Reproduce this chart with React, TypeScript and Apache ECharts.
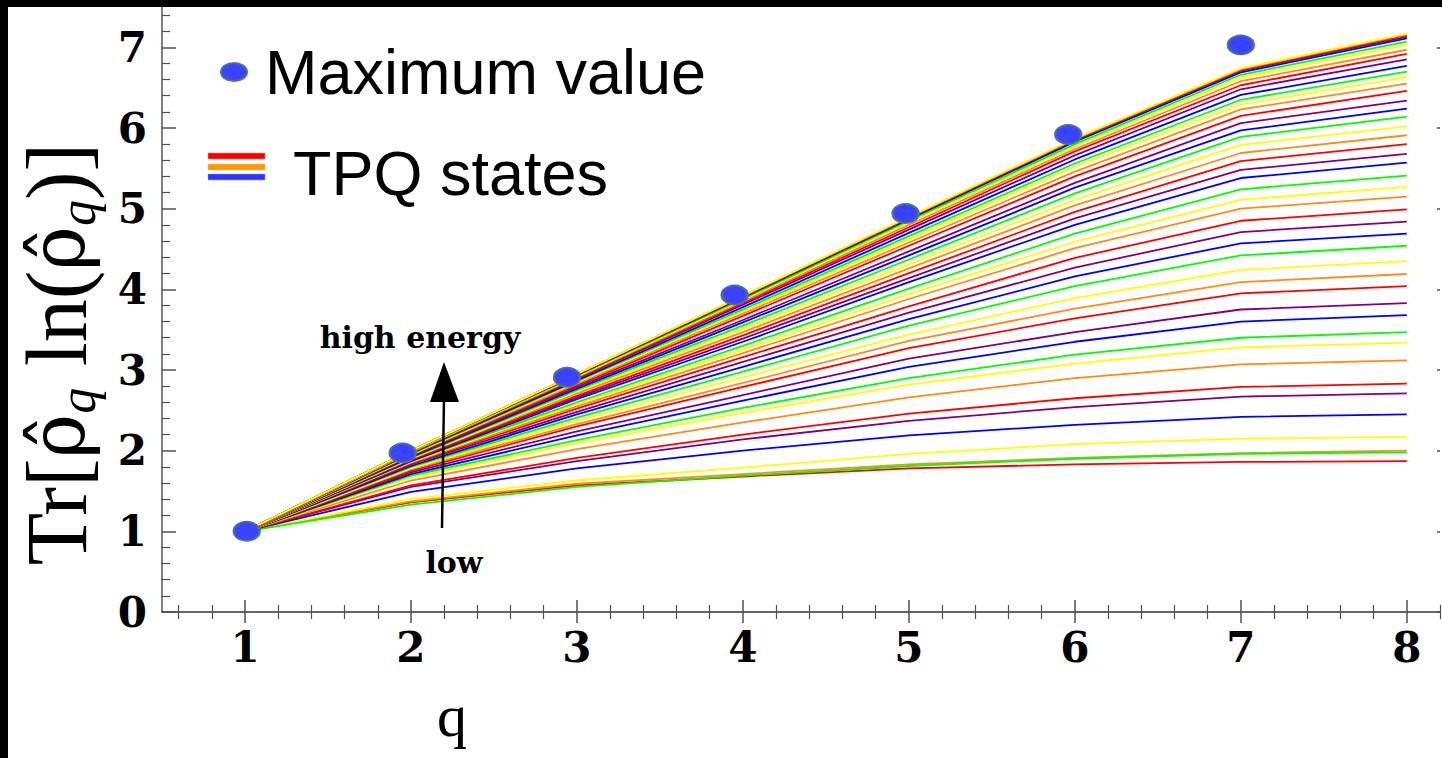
import React, { useEffect, useRef } from "react";
import * as echarts from "echarts";

const Q = [1, 2, 3, 4, 5, 6, 7, 8];
const xMajor = [1, 2, 3, 4, 5, 6, 7, 8];
const yMajor = [0, 1, 2, 3, 4, 5, 6, 7];
const lineColors = ["#ff0000", "#ff8a14", "#ffff00", "#00ff00", "#0000ff", "#800080"];

// TPQ state curves, from low energy (bottom) to high energy (top)
const tpqLines: number[][] = [
  [1, 1.36, 1.57, 1.68, 1.78, 1.83, 1.86, 1.87],
  [1, 1.37, 1.59, 1.71, 1.83, 1.91, 1.97, 2.0],
  [1, 1.4, 1.63, 1.79, 1.96, 2.08, 2.15, 2.17],
  [1, 1.33, 1.55, 1.69, 1.81, 1.9, 1.96, 1.98],
  [1, 1.49, 1.78, 2.0, 2.19, 2.32, 2.42, 2.45],
  [1, 1.55, 1.87, 2.14, 2.37, 2.54, 2.67, 2.71],
  [1, 1.57, 1.91, 2.2, 2.46, 2.65, 2.79, 2.83],
  [1, 1.63, 2.02, 2.35, 2.66, 2.9, 3.07, 3.12],
  [1, 1.67, 2.09, 2.47, 2.82, 3.08, 3.28, 3.34],
  [1, 1.69, 2.13, 2.53, 2.9, 3.19, 3.4, 3.47],
  [1, 1.71, 2.19, 2.62, 3.04, 3.35, 3.6, 3.68],
  [1, 1.73, 2.24, 2.69, 3.14, 3.47, 3.75, 3.83],
  [1, 1.75, 2.3, 2.79, 3.27, 3.64, 3.95, 4.04],
  [1, 1.77, 2.33, 2.84, 3.36, 3.76, 4.09, 4.19],
  [1, 1.78, 2.37, 2.91, 3.44, 3.89, 4.24, 4.35],
  [1, 1.8, 2.41, 2.98, 3.55, 4.04, 4.42, 4.54],
  [1, 1.81, 2.45, 3.04, 3.63, 4.16, 4.57, 4.69],
  [1, 1.83, 2.48, 3.1, 3.71, 4.27, 4.71, 4.84],
  [1, 1.84, 2.52, 3.16, 3.79, 4.39, 4.85, 4.99],
  [1, 1.85, 2.55, 3.21, 3.88, 4.51, 5.0, 5.15],
  [1, 1.86, 2.58, 3.25, 3.94, 4.59, 5.11, 5.27],
  [1, 1.87, 2.6, 3.3, 4.01, 4.69, 5.24, 5.41],
  [1, 1.87, 2.64, 3.35, 4.09, 4.8, 5.38, 5.57],
  [1, 1.88, 2.66, 3.39, 4.14, 4.88, 5.48, 5.68],
  [1, 1.89, 2.68, 3.43, 4.2, 4.96, 5.59, 5.8],
  [1, 1.9, 2.71, 3.47, 4.26, 5.04, 5.69, 5.91],
  [1, 1.9, 2.73, 3.51, 4.31, 5.11, 5.79, 6.02],
  [1, 1.91, 2.75, 3.55, 4.37, 5.19, 5.89, 6.14],
  [1, 1.92, 2.77, 3.59, 4.42, 5.26, 5.97, 6.24],
  [1, 1.93, 2.79, 3.62, 4.47, 5.32, 6.06, 6.34],
  [1, 1.94, 2.81, 3.67, 4.54, 5.4, 6.15, 6.46],
  [1, 1.95, 2.83, 3.7, 4.58, 5.46, 6.23, 6.55],
  [1, 1.95, 2.85, 3.73, 4.62, 5.52, 6.29, 6.63],
  [1, 1.96, 2.86, 3.75, 4.66, 5.56, 6.35, 6.7],
  [1, 1.97, 2.87, 3.78, 4.7, 5.61, 6.41, 6.77],
  [1, 1.97, 2.89, 3.81, 4.74, 5.66, 6.48, 6.85],
  [1, 1.98, 2.9, 3.83, 4.77, 5.71, 6.53, 6.92],
  [1, 1.98, 2.91, 3.85, 4.8, 5.74, 6.58, 6.97],
  [1, 1.99, 2.92, 3.87, 4.83, 5.78, 6.62, 7.03],
  [1, 1.99, 2.93, 3.88, 4.85, 5.8, 6.66, 7.07],
  [1, 2.0, 2.94, 3.9, 4.87, 5.83, 6.69, 7.11],
  [1, 2.0, 2.94, 3.91, 4.88, 5.85, 6.71, 7.13],
  [1, 2.0, 2.95, 3.91, 4.89, 5.86, 6.72, 7.15],
  [1, 2.0, 2.95, 3.92, 4.89, 5.86, 6.73, 7.16],
  [1, 2.0, 2.95, 3.92, 4.9, 5.87, 6.74, 7.17],
];

const maxQ = [1.01, 1.95, 2.94, 3.95, 4.98, 5.96, 7.0];
const maxVal = [1.0, 1.97, 2.91, 3.93, 4.94, 5.92, 7.03];

const X_MIN = 0.5;
const X_MAX = 8.2;
const Y_MIN = 0;
const Y_MAX = 7.5;

function minorTicks(min: number, max: number, step: number, majors: number[]) {
  const out: number[] = [];
  const n = Math.round((max - min) / step);
  for (let i = 0; i <= n; i++) {
    const v = Math.round((min + i * step) * 1000) / 1000;
    if (!majors.includes(v)) out.push(v);
  }
  return out;
}

export default function App() {
  const ref = useRef<HTMLDivElement>(null);

  useEffect(() => {
    if (!ref.current) return;
    const chart = echarts.init(ref.current, null, { renderer: "svg" });

    const xMinor = minorTicks(0.6, 8.2, 0.2, xMajor);
    const yMinor = minorTicks(0.2, 7.4, 0.2, yMajor);

    const tickColor = "#505050";
    const baseAxis = { min: X_MIN, max: X_MAX, type: "value" as const, splitLine: { show: false } };
    const baseY = { min: Y_MIN, max: Y_MAX, type: "value" as const, splitLine: { show: false } };
    const labelFont = {
      fontFamily: "DejaVu Serif",
      fontWeight: "bold" as const,
      fontSize: 42,
      color: "#000",
    };

    const lineSeries = tpqLines.map((vals, i) => ({
      type: "line" as const,
      xAxisIndex: 0,
      yAxisIndex: 0,
      data: Q.map((q, j) => [q, vals[j]]),
      showSymbol: false,
      symbol: "none",
      lineStyle: { color: lineColors[i % lineColors.length], width: 1.8 },
      z: 2,
      silent: true,
    }));

    const option: any = {
      animation: false,
      backgroundColor: "#ffffff",
      grid: { left: 162, right: 2, top: 7, bottom: 146, containLabel: false, outerBoundsMode: "none" },
      xAxis: [
        {
          ...baseAxis,
          position: "bottom",
          axisLine: { show: true, onZero: false, lineStyle: { color: "#333", width: 1.5 } },
          axisTick: { show: true, inside: true, length: 12, customValues: xMajor, lineStyle: { color: tickColor, width: 1.5 } },
          axisLabel: { show: true, customValues: xMajor, margin: 14, ...labelFont },
        },
        {
          ...baseAxis,
          position: "bottom",
          axisLine: { show: false },
          axisTick: { show: true, inside: true, length: 7, customValues: xMinor, lineStyle: { color: tickColor, width: 1.2 } },
          axisLabel: { show: false },
        },
        {
          ...baseAxis,
          position: "top",
          axisLine: { show: false },
          axisTick: { show: true, inside: true, length: 11, customValues: xMajor, lineStyle: { color: tickColor, width: 1.5 } },
          axisLabel: { show: false },
        },
        {
          ...baseAxis,
          position: "top",
          axisLine: { show: false },
          axisTick: { show: true, inside: true, length: 7, customValues: xMinor, lineStyle: { color: tickColor, width: 1.2 } },
          axisLabel: { show: false },
        },
      ],
      yAxis: [
        {
          ...baseY,
          position: "left",
          axisLine: { show: true, onZero: false, lineStyle: { color: "#555", width: 1.5 } },
          axisTick: { show: true, inside: true, length: 14, customValues: yMajor, lineStyle: { color: tickColor, width: 1.5 } },
          axisLabel: { show: true, customValues: yMajor, margin: 15, ...labelFont },
        },
        {
          ...baseY,
          position: "left",
          axisLine: { show: false },
          axisTick: { show: true, inside: true, length: 8, customValues: yMinor, lineStyle: { color: tickColor, width: 1.2 } },
          axisLabel: { show: false },
        },
        {
          ...baseY,
          position: "right",
          axisLine: { show: false },
          axisTick: { show: true, inside: true, length: 3, customValues: yMajor, lineStyle: { color: tickColor, width: 1.5 } },
          axisLabel: { show: false },
        },
      ],
      series: [
        ...lineSeries,
        {
          type: "scatter",
          xAxisIndex: 0,
          yAxisIndex: 0,
          data: maxQ.map((q, i) => [q, maxVal[i]]),
          symbol: "circle",
          symbolSize: [26, 19],
          itemStyle: { color: "#3a43ff", borderColor: "#4f7098", borderWidth: 2, opacity: 1 },
          z: 5,
          silent: true,
        },
      ],
      graphic: [
        { type: "rect", shape: { x: 0, y: 0, width: 1442, height: 7 }, style: { fill: "#000" }, z: 100 },
        { type: "rect", shape: { x: 0, y: 0, width: 8, height: 758 }, style: { fill: "#000" }, z: 100 },
        // legend
        { type: "ellipse", shape: { cx: 234, cy: 72, rx: 13, ry: 9 }, style: { fill: "#3a43ff", stroke: "#4f7098", lineWidth: 2 }, z: 50 },
        {
          type: "text",
          x: 265,
          y: 72,
          style: { text: "Maximum value", fontFamily: "Liberation Sans", fontSize: 63, fill: "#000", verticalAlign: "middle", align: "left" },
          z: 50,
        },
        { type: "rect", shape: { x: 208, y: 153, width: 57, height: 6 }, style: { fill: "#ff0000", stroke: "#ff8080", lineWidth: 0.5 }, z: 50 },
        { type: "rect", shape: { x: 208, y: 164, width: 57, height: 6 }, style: { fill: "#ff9900", stroke: "#ffc080", lineWidth: 0.5 }, z: 50 },
        { type: "rect", shape: { x: 208, y: 174, width: 57, height: 6 }, style: { fill: "#3333ff", stroke: "#9090ff", lineWidth: 0.5 }, z: 50 },
        {
          type: "text",
          x: 293,
          y: 173,
          style: { text: "TPQ states", fontFamily: "Liberation Sans", fontSize: 63, fill: "#000", verticalAlign: "middle", align: "left" },
          z: 50,
        },
        // annotation arrow
        { type: "line", shape: { x1: 442, y1: 528, x2: 444, y2: 398 }, style: { stroke: "#000", lineWidth: 2.5 }, z: 60 },
        { type: "polygon", shape: { points: [[444, 362], [430, 402], [459, 402]] }, style: { fill: "#000" }, z: 60 },
        {
          type: "text",
          x: 420,
          y: 337,
          style: { text: "high energy", fontFamily: "DejaVu Serif", fontWeight: "bold", fontSize: 30, fill: "#000", align: "center", verticalAlign: "middle" },
          z: 60,
        },
        {
          type: "text",
          x: 454,
          y: 562,
          style: { text: "low", fontFamily: "DejaVu Serif", fontWeight: "bold", fontSize: 30, fill: "#000", align: "center", verticalAlign: "middle" },
          z: 60,
        },
        // axis titles
        {
          type: "text",
          x: 57,
          y: 354,
          rotation: Math.PI / 2,
          style: {
            text: "{b|Tr[}{r|ρ̂}{s|q}{b| ln(}{r|ρ̂}{s|q}{b|)]}",
            align: "center",
            verticalAlign: "middle",
            fill: "#000",
            rich: {
              b: { fontFamily: "Liberation Serif", fontSize: 86, fill: "#000", lineHeight: 92, verticalAlign: "middle" },
              r: { fontFamily: "DejaVu Serif", fontSize: 76, fill: "#000", lineHeight: 92, verticalAlign: "middle" },
              s: { fontFamily: "Liberation Serif", fontStyle: "italic", fontSize: 52, fill: "#000", lineHeight: 92, verticalAlign: "bottom" },
            },
          },
          z: 50,
        },
        {
          type: "text",
          x: 452,
          y: 716,
          style: { text: "q", fontFamily: "Liberation Serif", fontSize: 60, lineHeight: 60, fill: "#000", align: "center", verticalAlign: "middle" },
          z: 50,
        },
      ],
    };

    chart.setOption(option);
    return () => chart.dispose();
  }, []);

  return (
    <div
      ref={ref}
      style={{ position: "fixed", left: 0, top: 0, width: 1442, height: 758, background: "#fff" }}
    />
  );
}
